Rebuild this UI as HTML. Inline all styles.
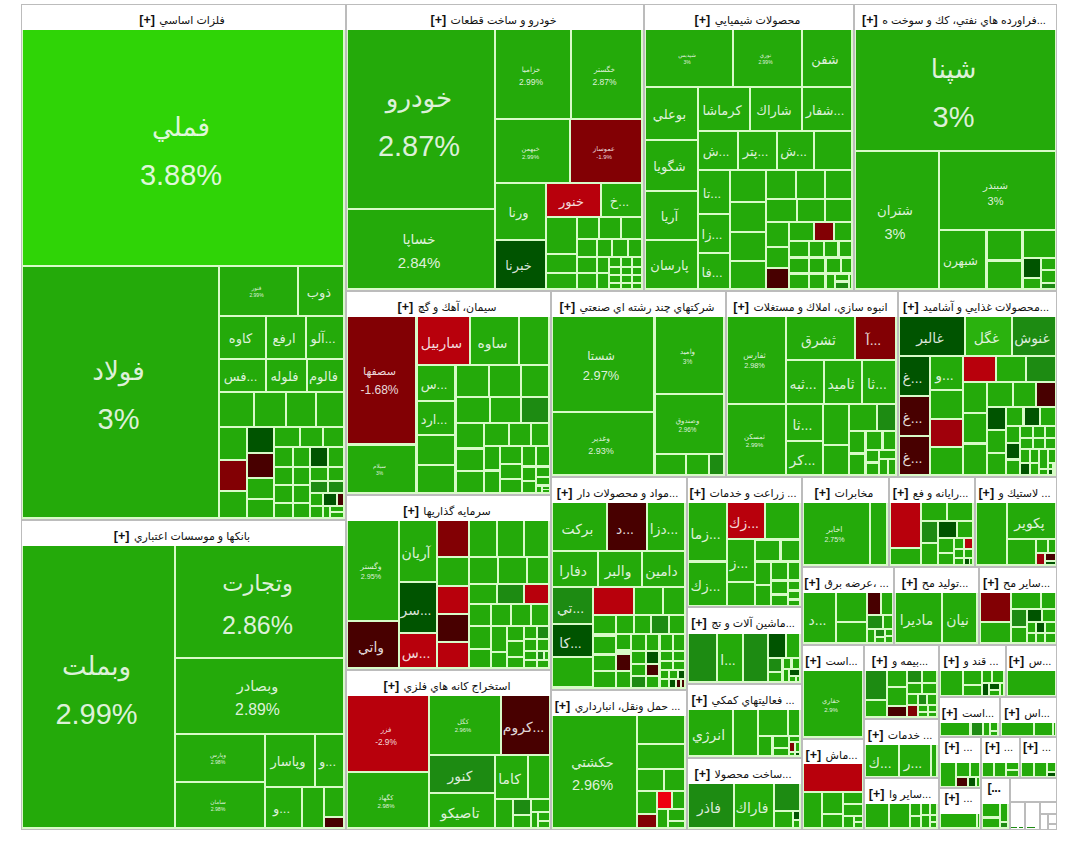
<!DOCTYPE html>
<html lang="fa"><head><meta charset="utf-8"><title>نقشه بازار</title>
<style>
html,body{margin:0;padding:0;background:#fff;}
body{width:1080px;height:858px;position:relative;overflow:hidden;font-family:"Liberation Sans","DejaVu Sans",sans-serif;}
.s{position:absolute;box-sizing:border-box;border:1px solid #bcbcbc;background:#d8fbc8;}
.w{background:#fff;}
.h{position:absolute;background:#fff;overflow:hidden;white-space:nowrap;color:#111;}
.h div{position:absolute;left:0;right:3px;top:7px;height:14px;line-height:14px;text-align:center;}
.h b{font-size:12.5px;font-weight:bold;letter-spacing:-0.4px;}
.h span{font-size:11px;}
.c{position:absolute;overflow:hidden;}
.t{position:absolute;left:0;right:4px;text-align:center;color:rgba(255,255,255,0.86);white-space:nowrap;}
</style></head><body>

<div class="s" style="left:21px;top:4px;width:325px;height:516px"></div>
<div class="s" style="left:21px;top:520px;width:325px;height:310px"></div>
<div class="s" style="left:346px;top:4px;width:298px;height:287px"></div>
<div class="s" style="left:644px;top:4px;width:210px;height:287px"></div>
<div class="s" style="left:854px;top:4px;width:203px;height:287px"></div>
<div class="s" style="left:346px;top:291px;width:205px;height:204px"></div>
<div class="s" style="left:346px;top:495px;width:205px;height:175px"></div>
<div class="s" style="left:346px;top:670px;width:205px;height:160px"></div>
<div class="s" style="left:551px;top:291px;width:175px;height:186px"></div>
<div class="s" style="left:726px;top:291px;width:172px;height:186px"></div>
<div class="s" style="left:898px;top:291px;width:159px;height:186px"></div>
<div class="s" style="left:551px;top:477px;width:136px;height:213px"></div>
<div class="s" style="left:551px;top:690px;width:136px;height:140px"></div>
<div class="s" style="left:687px;top:477px;width:115px;height:130px"></div>
<div class="s" style="left:687px;top:607px;width:115px;height:77px"></div>
<div class="s" style="left:687px;top:684px;width:115px;height:74px"></div>
<div class="s" style="left:687px;top:758px;width:115px;height:72px"></div>
<div class="s" style="left:802px;top:477px;width:87px;height:90px"></div>
<div class="s" style="left:889px;top:477px;width:86px;height:90px"></div>
<div class="s" style="left:975px;top:477px;width:82px;height:90px"></div>
<div class="s" style="left:802px;top:567px;width:92px;height:78px"></div>
<div class="s" style="left:894px;top:567px;width:85px;height:78px"></div>
<div class="s" style="left:979px;top:567px;width:78px;height:78px"></div>
<div class="s" style="left:802px;top:645px;width:62px;height:94px"></div>
<div class="s" style="left:802px;top:739px;width:62px;height:91px"></div>
<div class="s" style="left:864px;top:645px;width:75px;height:74px"></div>
<div class="s" style="left:864px;top:719px;width:75px;height:59px"></div>
<div class="s" style="left:864px;top:778px;width:75px;height:52px"></div>
<div class="s" style="left:939px;top:645px;width:67px;height:52px"></div>
<div class="s" style="left:1006px;top:645px;width:51px;height:52px"></div>
<div class="s" style="left:939px;top:697px;width:61px;height:40px"></div>
<div class="s" style="left:1000px;top:697px;width:57px;height:40px"></div>
<div class="s" style="left:939px;top:737px;width:42px;height:51px"></div>
<div class="s" style="left:981px;top:737px;width:39px;height:41px"></div>
<div class="s" style="left:1020px;top:737px;width:37px;height:41px"></div>
<div class="s" style="left:981px;top:778px;width:29px;height:52px"></div>
<div class="s" style="left:939px;top:788px;width:42px;height:42px"></div>
<div class="s w" style="left:1010px;top:778px;width:47px;height:52px"></div>
<div class="h" dir="ltr" style="left:22px;top:5px;width:323px;height:25px"><div><b>[+]</b> <span>فلزات اساسي</span></div></div>
<div class="h" dir="ltr" style="left:22px;top:521px;width:323px;height:25px"><div><b>[+]</b> <span>بانكها و موسسات اعتباري</span></div></div>
<div class="h" dir="ltr" style="left:347px;top:5px;width:296px;height:25px"><div><b>[+]</b> <span>خودرو و ساخت قطعات</span></div></div>
<div class="h" dir="ltr" style="left:645px;top:5px;width:208px;height:25px"><div><b>[+]</b> <span>محصولات شيميايي</span></div></div>
<div class="h" dir="ltr" style="left:855px;top:5px;width:201px;height:25px"><div><b>[+]</b> <span>فراورده هاي نفتي، كك و سوخت ه...</span></div></div>
<div class="h" dir="ltr" style="left:347px;top:292px;width:203px;height:25px"><div><b>[+]</b> <span>سيمان، آهك و گچ</span></div></div>
<div class="h" dir="ltr" style="left:347px;top:496px;width:203px;height:25px"><div><b>[+]</b> <span>سرمايه گذاريها</span></div></div>
<div class="h" dir="ltr" style="left:347px;top:671px;width:203px;height:25px"><div><b>[+]</b> <span>استخراج كانه هاي فلزي</span></div></div>
<div class="h" dir="ltr" style="left:552px;top:292px;width:173px;height:25px"><div><b>[+]</b> <span>شركتهاي چند رشته اي صنعتي</span></div></div>
<div class="h" dir="ltr" style="left:727px;top:292px;width:170px;height:25px"><div><b>[+]</b> <span>انبوه سازي، املاك و مستغلات</span></div></div>
<div class="h" dir="ltr" style="left:899px;top:292px;width:157px;height:25px"><div><b>[+]</b> <span>محصولات غذايي و آشاميد...</span></div></div>
<div class="h" dir="ltr" style="left:552px;top:478px;width:134px;height:25px"><div><b>[+]</b> <span>مواد و محصولات دار...</span></div></div>
<div class="h" dir="ltr" style="left:552px;top:691px;width:134px;height:25px"><div><b>[+]</b> <span>حمل ونقل، انبارداري ...</span></div></div>
<div class="h" dir="ltr" style="left:688px;top:478px;width:113px;height:25px"><div><b>[+]</b> <span>زراعت و خدمات ...</span></div></div>
<div class="h" dir="ltr" style="left:688px;top:608px;width:113px;height:26px"><div><b>[+]</b> <span>ماشين آلات و تج...</span></div></div>
<div class="h" dir="ltr" style="left:688px;top:685px;width:113px;height:25px"><div><b>[+]</b> <span>فعاليتهاي كمكي ...</span></div></div>
<div class="h" dir="ltr" style="left:688px;top:759px;width:113px;height:25px"><div><b>[+]</b> <span>ساخت محصولا...</span></div></div>
<div class="h" dir="ltr" style="left:803px;top:478px;width:85px;height:25px"><div><b>[+]</b> <span>مخابرات</span></div></div>
<div class="h" dir="ltr" style="left:890px;top:478px;width:84px;height:25px"><div><b>[+]</b> <span>رايانه و فع...</span></div></div>
<div class="h" dir="ltr" style="left:976px;top:478px;width:80px;height:25px"><div><b>[+]</b> <span>لاستيك و ...</span></div></div>
<div class="h" dir="ltr" style="left:803px;top:568px;width:90px;height:25px"><div><b>[+]</b> <span>عرضه برق، ...</span></div></div>
<div class="h" dir="ltr" style="left:895px;top:568px;width:83px;height:25px"><div><b>[+]</b> <span>توليد مح...</span></div></div>
<div class="h" dir="ltr" style="left:980px;top:568px;width:76px;height:25px"><div><b>[+]</b> <span>ساير مح...</span></div></div>
<div class="h" dir="ltr" style="left:803px;top:646px;width:60px;height:25px"><div><b>[+]</b> <span>است...</span></div></div>
<div class="h" dir="ltr" style="left:803px;top:740px;width:60px;height:24px"><div><b>[+]</b> <span>ماش...</span></div></div>
<div class="h" dir="ltr" style="left:865px;top:646px;width:73px;height:25px"><div><b>[+]</b> <span>بيمه و...</span></div></div>
<div class="h" dir="ltr" style="left:865px;top:720px;width:73px;height:25px"><div><b>[+]</b> <span>خدمات ...</span></div></div>
<div class="h" dir="ltr" style="left:865px;top:779px;width:73px;height:25px"><div><b>[+]</b> <span>ساير وا...</span></div></div>
<div class="h" dir="ltr" style="left:940px;top:646px;width:65px;height:25px"><div><b>[+]</b> <span>قند و ...</span></div></div>
<div class="h" dir="ltr" style="left:1007px;top:646px;width:49px;height:25px"><div><b>[+]</b> <span>س...</span></div></div>
<div class="h" dir="ltr" style="left:940px;top:698px;width:59px;height:25px"><div><b>[+]</b> <span>است...</span></div></div>
<div class="h" dir="ltr" style="left:1001px;top:698px;width:55px;height:25px"><div><b>[+]</b> <span>اس...</span></div></div>
<div class="h" dir="ltr" style="left:940px;top:738px;width:40px;height:25px"><div style="top:1px"><b>[+]</b> <span>...</span></div></div>
<div class="h" dir="ltr" style="left:982px;top:738px;width:37px;height:25px"><div style="top:1px"><b>[+]</b> <span>...</span></div></div>
<div class="h" dir="ltr" style="left:1021px;top:738px;width:35px;height:25px"><div style="top:1px"><b>[+]</b> <span>...</span></div></div>
<div class="h" dir="ltr" style="left:982px;top:779px;width:27px;height:25px"><div style="top:1px"><b>[...</b></div></div>
<div class="h" dir="ltr" style="left:940px;top:789px;width:40px;height:25px"><div style="top:1px"><b>[+]</b> <span>...</span></div></div>
<div class="c" style="left:1010px;top:801px;width:47px;height:2px;background:#bcbcbc"></div>
<div class="c" style="left:1024px;top:803px;width:2px;height:27px;background:#bcbcbc"></div>
<div class="c" style="left:1039px;top:803px;width:2px;height:27px;background:#bcbcbc"></div>
<div class="c" style="left:1041px;top:813px;width:16px;height:2px;background:#bcbcbc"></div>
<div class="c" style="left:1047px;top:815px;width:2px;height:15px;background:#bcbcbc"></div>
<div class="c" style="left:1049px;top:823px;width:8px;height:2px;background:#bcbcbc"></div>
<div class="c" style="left:1011px;top:827px;width:6px;height:1px;background:#1d8b12"></div>
<div class="c" style="left:1019px;top:827px;width:4px;height:1px;background:#1d8b12"></div>
<div class="c" style="left:1027px;top:827px;width:8px;height:1px;background:#1d8b12"></div>
<div class="c" style="left:23px;top:30px;width:320px;height:235px;background:#2fd406"><div class="t" style="top:71.7px;font-size:29px;line-height:48.1px"><span style="font-size:0.9em;position:relative;top:0">فملي</span><br>3.88%</div></div>
<div class="c" style="left:23px;top:267px;width:195px;height:250px;background:#24aa0a"><div class="t" style="top:79.2px;font-size:29px;line-height:48.1px"><span style="font-size:0.9em;position:relative;top:0">فولاد</span><br>3%</div></div>
<div class="c" style="left:220px;top:267px;width:77px;height:48px;background:#24aa0a"><div class="t" style="top:17.3px;font-size:5px;line-height:7.5px"><span style="font-size:1.1em;position:relative;top:0.12em">فنور</span><br>2.99%</div></div>
<div class="c" style="left:299px;top:267px;width:44px;height:48px;background:#24aa0a"><div class="t" style="top:17.8px;font-size:13.02px;line-height:16.9px">ذوب</div></div>
<div class="c" style="left:220px;top:317px;width:45px;height:41px;background:#24aa0a"><div class="t" style="top:14.3px;font-size:13.02px;line-height:16.9px">كاوه</div></div>
<div class="c" style="left:267px;top:317px;width:38px;height:41px;background:#24aa0a"><div class="t" style="top:14.3px;font-size:13.02px;line-height:16.9px">ارفع</div></div>
<div class="c" style="left:307px;top:317px;width:36px;height:41px;background:#24aa0a"><div class="t" style="top:14.3px;font-size:13.02px;line-height:16.9px">آلو...</div></div>
<div class="c" style="left:220px;top:360px;width:45px;height:31px;background:#24aa0a"><div class="t" style="top:9.3px;font-size:13.02px;line-height:16.9px">فس...</div></div>
<div class="c" style="left:267px;top:360px;width:39px;height:31px;background:#24aa0a"><div class="t" style="top:9.3px;font-size:13.02px;line-height:16.9px">فلوله</div></div>
<div class="c" style="left:308px;top:360px;width:35px;height:31px;background:#24aa0a"><div class="t" style="top:9.3px;font-size:13.02px;line-height:16.9px">فالوم</div></div>
<div class="c" style="left:220px;top:393px;width:33px;height:33px;background:#24aa0a"></div>
<div class="c" style="left:255px;top:393px;width:30px;height:33px;background:#24aa0a"></div>
<div class="c" style="left:287px;top:393px;width:28px;height:33px;background:#24aa0a"></div>
<div class="c" style="left:317px;top:393px;width:26px;height:33px;background:#24aa0a"></div>
<div class="c" style="left:220px;top:428px;width:26px;height:31px;background:#24aa0a"></div>
<div class="c" style="left:220px;top:461px;width:26px;height:29px;background:#820004"></div>
<div class="c" style="left:220px;top:492px;width:26px;height:25px;background:#24aa0a"></div>
<div class="c" style="left:248px;top:428px;width:25px;height:24px;background:#005400"></div>
<div class="c" style="left:248px;top:454px;width:25px;height:23px;background:#480000"></div>
<div class="c" style="left:248px;top:479px;width:25px;height:19px;background:#24aa0a"></div>
<div class="c" style="left:248px;top:500px;width:25px;height:17px;background:#24aa0a"></div>
<div class="c" style="left:275px;top:428px;width:24px;height:18px;background:#24aa0a"></div>
<div class="c" style="left:301px;top:428px;width:21px;height:18px;background:#24aa0a"></div>
<div class="c" style="left:324px;top:428px;width:19px;height:18px;background:#24aa0a"></div>
<div class="c" style="left:275px;top:448px;width:17px;height:18px;background:#24aa0a"></div>
<div class="c" style="left:275px;top:468px;width:17px;height:16px;background:#24aa0a"></div>
<div class="c" style="left:275px;top:486px;width:17px;height:16px;background:#24aa0a"></div>
<div class="c" style="left:275px;top:504px;width:17px;height:13px;background:#24aa0a"></div>
<div class="c" style="left:294px;top:448px;width:15px;height:18px;background:#24aa0a"></div>
<div class="c" style="left:294px;top:468px;width:15px;height:16px;background:#24aa0a"></div>
<div class="c" style="left:294px;top:486px;width:15px;height:16px;background:#24aa0a"></div>
<div class="c" style="left:294px;top:504px;width:15px;height:13px;background:#24aa0a"></div>
<div class="c" style="left:311px;top:448px;width:16px;height:18px;background:#005400"></div>
<div class="c" style="left:329px;top:448px;width:14px;height:18px;background:#24aa0a"></div>
<div class="c" style="left:311px;top:468px;width:16px;height:12px;background:#24aa0a"></div>
<div class="c" style="left:329px;top:468px;width:14px;height:12px;background:#24aa0a"></div>
<div class="c" style="left:311px;top:482px;width:16px;height:10px;background:#1d8b12"></div>
<div class="c" style="left:329px;top:482px;width:14px;height:10px;background:#1d8b12"></div>
<div class="c" style="left:311px;top:494px;width:11px;height:11px;background:#24aa0a"></div>
<div class="c" style="left:324px;top:494px;width:12px;height:11px;background:#005400"></div>
<div class="c" style="left:338px;top:494px;width:5px;height:11px;background:#480000"></div>
<div class="c" style="left:311px;top:507px;width:11px;height:10px;background:#24aa0a"></div>
<div class="c" style="left:324px;top:507px;width:5px;height:10px;background:#24aa0a"></div>
<div class="c" style="left:331px;top:507px;width:12px;height:4px;background:#24aa0a"></div>
<div class="c" style="left:331px;top:513px;width:12px;height:4px;background:#24aa0a"></div>
<div class="c" style="left:23px;top:546px;width:151px;height:281px;background:#24aa0a"><div class="t" style="top:94.7px;font-size:29px;line-height:48.1px"><span style="font-size:0.9em;position:relative;top:0">وبملت</span><br>2.99%</div></div>
<div class="c" style="left:176px;top:546px;width:167px;height:111px;background:#24aa0a"><div class="t" style="top:16.0px;font-size:25px;line-height:41.5px"><span style="font-size:0.9em;position:relative;top:0">وتجارت</span><br>2.86%</div></div>
<div class="c" style="left:176px;top:659px;width:167px;height:74px;background:#24aa0a"><div class="t" style="top:11.9px;font-size:15.8px;line-height:26.2px"><span style="font-size:0.92em;position:relative;top:0.12em">وبصادر</span><br>2.89%</div></div>
<div class="c" style="left:176px;top:735px;width:88px;height:46px;background:#24aa0a"><div class="t" style="top:16.0px;font-size:5.2px;line-height:7.8px"><span style="font-size:1.1em;position:relative;top:0.12em">وپارس</span><br>2.98%</div></div>
<div class="c" style="left:176px;top:783px;width:88px;height:44px;background:#24aa0a"><div class="t" style="top:15.0px;font-size:5.2px;line-height:7.8px"><span style="font-size:1.1em;position:relative;top:0.12em">سامان</span><br>2.98%</div></div>
<div class="c" style="left:266px;top:735px;width:48px;height:51px;background:#24aa0a"><div class="t" style="top:19.3px;font-size:13.02px;line-height:16.9px">وپاسار</div></div>
<div class="c" style="left:316px;top:735px;width:27px;height:51px;background:#24aa0a"><div class="t" style="top:19.3px;font-size:13.02px;line-height:16.9px">و...</div></div>
<div class="c" style="left:266px;top:788px;width:35px;height:39px;background:#24aa0a"><div class="t" style="top:13.3px;font-size:13.02px;line-height:16.9px">و...</div></div>
<div class="c" style="left:303px;top:788px;width:20px;height:39px;background:#24aa0a"></div>
<div class="c" style="left:325px;top:788px;width:18px;height:28px;background:#24aa0a"></div>
<div class="c" style="left:325px;top:818px;width:18px;height:9px;background:#480000"></div>
<div class="c" style="left:348px;top:30px;width:146px;height:178px;background:#24aa0a"><div class="t" style="top:43.2px;font-size:29px;line-height:48.1px"><span style="font-size:0.9em;position:relative;top:0">خودرو</span><br>2.87%</div></div>
<div class="c" style="left:348px;top:210px;width:146px;height:78px;background:#24aa0a"><div class="t" style="top:15.2px;font-size:15px;line-height:24.9px"><span style="font-size:0.92em;position:relative;top:0.12em">خساپا</span><br>2.84%</div></div>
<div class="c" style="left:496px;top:30px;width:74px;height:88px;background:#24aa0a"><div class="t" style="top:32.6px;font-size:8.5px;line-height:12.8px"><span style="font-size:0.85em;position:relative;top:0.12em">خزاميا</span><br>2.99%</div></div>
<div class="c" style="left:572px;top:30px;width:69px;height:88px;background:#24aa0a"><div class="t" style="top:32.6px;font-size:8.5px;line-height:12.8px"><span style="font-size:0.85em;position:relative;top:0.12em">خگستر</span><br>2.87%</div></div>
<div class="c" style="left:496px;top:120px;width:73px;height:62px;background:#24aa0a"><div class="t" style="top:23.0px;font-size:6px;line-height:9.0px"><span style="font-size:1.1em;position:relative;top:0.12em">خبهمن</span><br>2.99%</div></div>
<div class="c" style="left:571px;top:120px;width:70px;height:62px;background:#820004"><div class="t" style="top:23.0px;font-size:6px;line-height:9.0px"><span style="font-size:1.1em;position:relative;top:0.12em">عموساز</span><br>-1.9%</div></div>
<div class="c" style="left:496px;top:184px;width:49px;height:55px;background:#24aa0a"><div class="t" style="top:21.3px;font-size:13.02px;line-height:16.9px">ورنا</div></div>
<div class="c" style="left:496px;top:241px;width:49px;height:47px;background:#005400"><div class="t" style="top:17.3px;font-size:13.02px;line-height:16.9px">خبرنا</div></div>
<div class="c" style="left:547px;top:184px;width:53px;height:32px;background:#b8000c"><div class="t" style="top:9.8px;font-size:13.02px;line-height:16.9px">خنور</div></div>
<div class="c" style="left:602px;top:184px;width:39px;height:32px;background:#24aa0a"><div class="t" style="top:9.8px;font-size:13.02px;line-height:16.9px">خ...</div></div>
<div class="c" style="left:547px;top:218px;width:29px;height:35px;background:#24aa0a"></div>
<div class="c" style="left:547px;top:255px;width:29px;height:17px;background:#24aa0a"></div>
<div class="c" style="left:547px;top:274px;width:29px;height:14px;background:#24aa0a"></div>
<div class="c" style="left:578px;top:218px;width:20px;height:20px;background:#24aa0a"></div>
<div class="c" style="left:600px;top:218px;width:20px;height:20px;background:#24aa0a"></div>
<div class="c" style="left:622px;top:218px;width:19px;height:20px;background:#24aa0a"></div>
<div class="c" style="left:578px;top:240px;width:18px;height:16px;background:#24aa0a"></div>
<div class="c" style="left:578px;top:258px;width:18px;height:14px;background:#24aa0a"></div>
<div class="c" style="left:578px;top:274px;width:18px;height:14px;background:#24aa0a"></div>
<div class="c" style="left:598px;top:240px;width:13px;height:16px;background:#24aa0a"></div>
<div class="c" style="left:613px;top:240px;width:14px;height:16px;background:#24aa0a"></div>
<div class="c" style="left:629px;top:240px;width:12px;height:16px;background:#24aa0a"></div>
<div class="c" style="left:598px;top:258px;width:10px;height:14px;background:#24aa0a"></div>
<div class="c" style="left:598px;top:274px;width:10px;height:14px;background:#24aa0a"></div>
<div class="c" style="left:610px;top:258px;width:10px;height:8px;background:#24aa0a"></div>
<div class="c" style="left:622px;top:258px;width:9px;height:8px;background:#24aa0a"></div>
<div class="c" style="left:633px;top:258px;width:8px;height:8px;background:#24aa0a"></div>
<div class="c" style="left:610px;top:268px;width:10px;height:6px;background:#24aa0a"></div>
<div class="c" style="left:622px;top:268px;width:9px;height:6px;background:#24aa0a"></div>
<div class="c" style="left:633px;top:268px;width:8px;height:6px;background:#24aa0a"></div>
<div class="c" style="left:610px;top:276px;width:10px;height:6px;background:#24aa0a"></div>
<div class="c" style="left:622px;top:276px;width:9px;height:6px;background:#24aa0a"></div>
<div class="c" style="left:633px;top:276px;width:8px;height:6px;background:#24aa0a"></div>
<div class="c" style="left:610px;top:284px;width:10px;height:4px;background:#24aa0a"></div>
<div class="c" style="left:622px;top:284px;width:9px;height:4px;background:#24aa0a"></div>
<div class="c" style="left:633px;top:284px;width:8px;height:4px;background:#24aa0a"></div>
<div class="c" style="left:646px;top:30px;width:86px;height:56px;background:#24aa0a"><div class="t" style="top:21.3px;font-size:5px;line-height:7.5px"><span style="font-size:1.1em;position:relative;top:0.12em">شپديس</span><br>3%</div></div>
<div class="c" style="left:734px;top:30px;width:67px;height:56px;background:#24aa0a"><div class="t" style="top:21.3px;font-size:5px;line-height:7.5px"><span style="font-size:1.1em;position:relative;top:0.12em">نوري</span><br>2.99%</div></div>
<div class="c" style="left:803px;top:30px;width:48px;height:56px;background:#24aa0a"><div class="t" style="top:21.8px;font-size:13.02px;line-height:16.9px">شفن</div></div>
<div class="c" style="left:646px;top:88px;width:51px;height:51px;background:#24aa0a"><div class="t" style="top:19.3px;font-size:13.02px;line-height:16.9px">بوعلي</div></div>
<div class="c" style="left:646px;top:141px;width:51px;height:49px;background:#24aa0a"><div class="t" style="top:18.3px;font-size:13.02px;line-height:16.9px">شگويا</div></div>
<div class="c" style="left:646px;top:192px;width:51px;height:47px;background:#24aa0a"><div class="t" style="top:17.3px;font-size:13.02px;line-height:16.9px">آريا</div></div>
<div class="c" style="left:646px;top:241px;width:51px;height:47px;background:#24aa0a"><div class="t" style="top:17.3px;font-size:13.02px;line-height:16.9px">پارسان</div></div>
<div class="c" style="left:699px;top:88px;width:50px;height:42px;background:#24aa0a"><div class="t" style="top:14.8px;font-size:13.02px;line-height:16.9px">كرماشا</div></div>
<div class="c" style="left:751px;top:88px;width:50px;height:42px;background:#24aa0a"><div class="t" style="top:14.8px;font-size:13.02px;line-height:16.9px">شاراك</div></div>
<div class="c" style="left:803px;top:88px;width:48px;height:42px;background:#24aa0a"><div class="t" style="top:14.8px;font-size:13.02px;line-height:16.9px">شفار...</div></div>
<div class="c" style="left:699px;top:132px;width:38px;height:37px;background:#24aa0a"><div class="t" style="top:12.3px;font-size:13.02px;line-height:16.9px">ش...</div></div>
<div class="c" style="left:739px;top:132px;width:37px;height:37px;background:#24aa0a"><div class="t" style="top:12.3px;font-size:13.02px;line-height:16.9px">پتر...</div></div>
<div class="c" style="left:778px;top:132px;width:35px;height:37px;background:#24aa0a"><div class="t" style="top:12.3px;font-size:13.02px;line-height:16.9px">ش...</div></div>
<div class="c" style="left:815px;top:132px;width:36px;height:37px;background:#24aa0a"></div>
<div class="c" style="left:699px;top:171px;width:30px;height:42px;background:#24aa0a"><div class="t" style="top:14.8px;font-size:13.02px;line-height:16.9px">تا...</div></div>
<div class="c" style="left:699px;top:215px;width:30px;height:37px;background:#24aa0a"><div class="t" style="top:12.3px;font-size:13.02px;line-height:16.9px">زا...</div></div>
<div class="c" style="left:699px;top:254px;width:30px;height:34px;background:#24aa0a"><div class="t" style="top:10.8px;font-size:13.02px;line-height:16.9px">فا...</div></div>
<div class="c" style="left:731px;top:171px;width:34px;height:30px;background:#24aa0a"></div>
<div class="c" style="left:731px;top:203px;width:34px;height:28px;background:#24aa0a"></div>
<div class="c" style="left:731px;top:233px;width:34px;height:27px;background:#24aa0a"></div>
<div class="c" style="left:731px;top:262px;width:34px;height:26px;background:#24aa0a"></div>
<div class="c" style="left:767px;top:171px;width:28px;height:27px;background:#24aa0a"></div>
<div class="c" style="left:797px;top:171px;width:27px;height:27px;background:#24aa0a"></div>
<div class="c" style="left:826px;top:171px;width:25px;height:27px;background:#24aa0a"></div>
<div class="c" style="left:767px;top:200px;width:29px;height:21px;background:#24aa0a"></div>
<div class="c" style="left:798px;top:200px;width:26px;height:21px;background:#24aa0a"></div>
<div class="c" style="left:826px;top:200px;width:25px;height:21px;background:#24aa0a"></div>
<div class="c" style="left:767px;top:223px;width:21px;height:23px;background:#24aa0a"></div>
<div class="c" style="left:767px;top:248px;width:21px;height:19px;background:#24aa0a"></div>
<div class="c" style="left:767px;top:269px;width:21px;height:19px;background:#480000"></div>
<div class="c" style="left:790px;top:223px;width:23px;height:17px;background:#24aa0a"></div>
<div class="c" style="left:815px;top:223px;width:18px;height:17px;background:#820004"></div>
<div class="c" style="left:835px;top:223px;width:16px;height:17px;background:#24aa0a"></div>
<div class="c" style="left:790px;top:242px;width:18px;height:14px;background:#24aa0a"></div>
<div class="c" style="left:810px;top:242px;width:13px;height:14px;background:#24aa0a"></div>
<div class="c" style="left:825px;top:242px;width:12px;height:14px;background:#24aa0a"></div>
<div class="c" style="left:840px;top:242px;width:11px;height:14px;background:#24aa0a"></div>
<div class="c" style="left:790px;top:259px;width:18px;height:13px;background:#24aa0a"></div>
<div class="c" style="left:810px;top:259px;width:14px;height:13px;background:#24aa0a"></div>
<div class="c" style="left:827px;top:259px;width:13px;height:13px;background:#24aa0a"></div>
<div class="c" style="left:842px;top:259px;width:9px;height:13px;background:#24aa0a"></div>
<div class="c" style="left:790px;top:275px;width:18px;height:13px;background:#24aa0a"></div>
<div class="c" style="left:810px;top:275px;width:14px;height:13px;background:#24aa0a"></div>
<div class="c" style="left:827px;top:275px;width:7px;height:13px;background:#24aa0a"></div>
<div class="c" style="left:836px;top:275px;width:12px;height:5px;background:#24aa0a"></div>
<div class="c" style="left:836px;top:283px;width:12px;height:5px;background:#1d8b12"></div>
<div class="c" style="left:850px;top:275px;width:1px;height:13px;background:#24aa0a"></div>
<div class="c" style="left:856px;top:30px;width:199px;height:120px;background:#24aa0a"><div class="t" style="top:14.2px;font-size:29px;line-height:48.1px"><span style="font-size:0.9em;position:relative;top:0">شپنا</span><br>3%</div></div>
<div class="c" style="left:856px;top:152px;width:82px;height:136px;background:#24aa0a"><div class="t" style="top:44.9px;font-size:14.5px;line-height:24.1px"><span style="font-size:0.92em;position:relative;top:0.12em">شتران</span><br>3%</div></div>
<div class="c" style="left:940px;top:152px;width:115px;height:77px;background:#24aa0a"><div class="t" style="top:23.8px;font-size:11px;line-height:16.5px"><span style="font-size:0.92em;position:relative;top:0.12em">شبندر</span><br>3%</div></div>
<div class="c" style="left:940px;top:231px;width:45px;height:57px;background:#24aa0a"><div class="t" style="top:22.7px;font-size:12.09px;line-height:15.7px">شبهرن</div></div>
<div class="c" style="left:988px;top:231px;width:33px;height:28px;background:#24aa0a"></div>
<div class="c" style="left:988px;top:262px;width:33px;height:26px;background:#24aa0a"></div>
<div class="c" style="left:1024px;top:231px;width:31px;height:26px;background:#24aa0a"></div>
<div class="c" style="left:1024px;top:259px;width:16px;height:18px;background:#005400"></div>
<div class="c" style="left:1042px;top:259px;width:13px;height:10px;background:#24aa0a"></div>
<div class="c" style="left:1042px;top:271px;width:13px;height:11px;background:#24aa0a"></div>
<div class="c" style="left:1024px;top:279px;width:16px;height:9px;background:#24aa0a"></div>
<div class="c" style="left:1042px;top:284px;width:13px;height:4px;background:#1d8b12"></div>
<div class="c" style="left:348px;top:317px;width:67px;height:126px;background:#820004"><div class="t" style="top:43.9px;font-size:12px;line-height:19.9px"><span style="font-size:0.92em;position:relative;top:0.12em">سصفها</span><br>-1.68%</div></div>
<div class="c" style="left:348px;top:446px;width:67px;height:46px;background:#24aa0a"><div class="t" style="top:16.3px;font-size:5px;line-height:7.5px"><span style="font-size:1.1em;position:relative;top:0.12em">سيلام</span><br>3%</div></div>
<div class="c" style="left:418px;top:317px;width:51px;height:47px;background:#b8000c"><div class="t" style="top:16.8px;font-size:13.95px;line-height:18.1px">ساربيل</div></div>
<div class="c" style="left:471px;top:317px;width:47px;height:47px;background:#24aa0a"><div class="t" style="top:16.8px;font-size:13.95px;line-height:18.1px">ساوه</div></div>
<div class="c" style="left:520px;top:317px;width:28px;height:47px;background:#24aa0a"></div>
<div class="c" style="left:418px;top:366px;width:36px;height:34px;background:#24aa0a"><div class="t" style="top:10.8px;font-size:13.02px;line-height:16.9px">س...</div></div>
<div class="c" style="left:418px;top:402px;width:36px;height:32px;background:#24aa0a"><div class="t" style="top:9.8px;font-size:13.02px;line-height:16.9px">ارد...</div></div>
<div class="c" style="left:418px;top:436px;width:36px;height:28px;background:#24aa0a"></div>
<div class="c" style="left:418px;top:466px;width:36px;height:26px;background:#24aa0a"></div>
<div class="c" style="left:457px;top:366px;width:31px;height:30px;background:#24aa0a"></div>
<div class="c" style="left:490px;top:366px;width:30px;height:30px;background:#24aa0a"></div>
<div class="c" style="left:522px;top:366px;width:26px;height:30px;background:#24aa0a"></div>
<div class="c" style="left:457px;top:398px;width:32px;height:24px;background:#24aa0a"></div>
<div class="c" style="left:491px;top:398px;width:29px;height:24px;background:#24aa0a"></div>
<div class="c" style="left:522px;top:398px;width:26px;height:24px;background:#1d8b12"></div>
<div class="c" style="left:457px;top:424px;width:26px;height:23px;background:#24aa0a"></div>
<div class="c" style="left:485px;top:424px;width:23px;height:21px;background:#24aa0a"></div>
<div class="c" style="left:510px;top:424px;width:20px;height:21px;background:#24aa0a"></div>
<div class="c" style="left:532px;top:424px;width:16px;height:21px;background:#24aa0a"></div>
<div class="c" style="left:457px;top:450px;width:26px;height:20px;background:#24aa0a"></div>
<div class="c" style="left:457px;top:472px;width:26px;height:20px;background:#24aa0a"></div>
<div class="c" style="left:485px;top:447px;width:14px;height:22px;background:#24aa0a"></div>
<div class="c" style="left:485px;top:472px;width:14px;height:20px;background:#24aa0a"></div>
<div class="c" style="left:501px;top:447px;width:20px;height:16px;background:#24aa0a"></div>
<div class="c" style="left:501px;top:465px;width:20px;height:13px;background:#24aa0a"></div>
<div class="c" style="left:501px;top:480px;width:20px;height:12px;background:#24aa0a"></div>
<div class="c" style="left:523px;top:447px;width:12px;height:18px;background:#24aa0a"></div>
<div class="c" style="left:523px;top:468px;width:12px;height:12px;background:#24aa0a"></div>
<div class="c" style="left:523px;top:482px;width:12px;height:10px;background:#24aa0a"></div>
<div class="c" style="left:537px;top:447px;width:12px;height:18px;background:#24aa0a"></div>
<div class="c" style="left:537px;top:468px;width:12px;height:8px;background:#24aa0a"></div>
<div class="c" style="left:537px;top:478px;width:12px;height:6px;background:#24aa0a"></div>
<div class="c" style="left:537px;top:487px;width:4px;height:5px;background:#24aa0a"></div>
<div class="c" style="left:543px;top:487px;width:6px;height:2px;background:#24aa0a"></div>
<div class="c" style="left:543px;top:490px;width:6px;height:2px;background:#24aa0a"></div>
<div class="c" style="left:553px;top:317px;width:100px;height:94px;background:#24aa0a"><div class="t" style="top:26.6px;font-size:12.8px;line-height:21.2px"><span style="font-size:0.92em;position:relative;top:0.12em">شستا</span><br>2.97%</div></div>
<div class="c" style="left:553px;top:413px;width:100px;height:61px;background:#24aa0a"><div class="t" style="top:18.4px;font-size:9px;line-height:13.5px"><span style="font-size:0.85em;position:relative;top:0.12em">وغدير</span><br>2.93%</div></div>
<div class="c" style="left:656px;top:317px;width:67px;height:76px;background:#24aa0a"><div class="t" style="top:29.3px;font-size:6.5px;line-height:9.8px"><span style="font-size:1.1em;position:relative;top:0.12em">واميد</span><br>3%</div></div>
<div class="c" style="left:656px;top:395px;width:67px;height:58px;background:#24aa0a"><div class="t" style="top:20.6px;font-size:6.3px;line-height:9.4px"><span style="font-size:1.1em;position:relative;top:0.12em">وصندوق</span><br>2.96%</div></div>
<div class="c" style="left:656px;top:455px;width:29px;height:19px;background:#24aa0a"></div>
<div class="c" style="left:687px;top:455px;width:21px;height:19px;background:#24aa0a"></div>
<div class="c" style="left:710px;top:455px;width:13px;height:19px;background:#1d8b12"></div>
<div class="c" style="left:728px;top:317px;width:57px;height:86px;background:#24aa0a"><div class="t" style="top:33.2px;font-size:7.3px;line-height:10.9px"><span style="font-size:1.1em;position:relative;top:0.12em">ثفارس</span><br>2.98%</div></div>
<div class="c" style="left:728px;top:405px;width:57px;height:69px;background:#24aa0a"><div class="t" style="top:26.2px;font-size:6.2px;line-height:9.3px"><span style="font-size:1.1em;position:relative;top:0.12em">ثمسكن</span><br>2.99%</div></div>
<div class="c" style="left:787px;top:317px;width:67px;height:42px;background:#24aa0a"><div class="t" style="top:14.3px;font-size:13.95px;line-height:18.1px">ثشرق</div></div>
<div class="c" style="left:856px;top:317px;width:39px;height:42px;background:#820004"><div class="t" style="top:14.3px;font-size:13.95px;line-height:18.1px">آ...</div></div>
<div class="c" style="left:787px;top:361px;width:36px;height:42px;background:#24aa0a"><div class="t" style="top:14.3px;font-size:13.95px;line-height:18.1px">ثبه...</div></div>
<div class="c" style="left:825px;top:361px;width:36px;height:42px;background:#24aa0a"><div class="t" style="top:14.3px;font-size:13.95px;line-height:18.1px">ثاميد</div></div>
<div class="c" style="left:863px;top:361px;width:32px;height:42px;background:#24aa0a"><div class="t" style="top:14.3px;font-size:13.95px;line-height:18.1px">ثا...</div></div>
<div class="c" style="left:787px;top:405px;width:35px;height:35px;background:#24aa0a"><div class="t" style="top:10.8px;font-size:13.95px;line-height:18.1px">ثا...</div></div>
<div class="c" style="left:787px;top:442px;width:35px;height:32px;background:#24aa0a"><div class="t" style="top:9.3px;font-size:13.95px;line-height:18.1px">كر...</div></div>
<div class="c" style="left:824px;top:405px;width:24px;height:39px;background:#24aa0a"></div>
<div class="c" style="left:824px;top:446px;width:24px;height:28px;background:#24aa0a"></div>
<div class="c" style="left:850px;top:405px;width:26px;height:25px;background:#24aa0a"></div>
<div class="c" style="left:878px;top:405px;width:17px;height:25px;background:#1d8b12"></div>
<div class="c" style="left:850px;top:432px;width:14px;height:20px;background:#24aa0a"></div>
<div class="c" style="left:850px;top:455px;width:14px;height:19px;background:#24aa0a"></div>
<div class="c" style="left:867px;top:432px;width:14px;height:17px;background:#24aa0a"></div>
<div class="c" style="left:884px;top:432px;width:11px;height:17px;background:#24aa0a"></div>
<div class="c" style="left:867px;top:451px;width:11px;height:10px;background:#24aa0a"></div>
<div class="c" style="left:867px;top:464px;width:11px;height:10px;background:#24aa0a"></div>
<div class="c" style="left:880px;top:451px;width:15px;height:7px;background:#24aa0a"></div>
<div class="c" style="left:880px;top:460px;width:7px;height:14px;background:#24aa0a"></div>
<div class="c" style="left:889px;top:460px;width:6px;height:14px;background:#24aa0a"></div>
<div class="c" style="left:900px;top:317px;width:64px;height:38px;background:#005400"><div class="t" style="top:12.3px;font-size:13.95px;line-height:18.1px">غالبر</div></div>
<div class="c" style="left:966px;top:317px;width:45px;height:38px;background:#2ab20e"><div class="t" style="top:12.3px;font-size:13.95px;line-height:18.1px">غگل</div></div>
<div class="c" style="left:1013px;top:317px;width:42px;height:38px;background:#1d8b12"><div class="t" style="top:12.3px;font-size:13.95px;line-height:18.1px">غنوش</div></div>
<div class="c" style="left:900px;top:357px;width:29px;height:38px;background:#005400"><div class="t" style="top:12.3px;font-size:13.95px;line-height:18.1px">غ...</div></div>
<div class="c" style="left:900px;top:397px;width:29px;height:38px;background:#480000"><div class="t" style="top:12.3px;font-size:13.95px;line-height:18.1px">غ...</div></div>
<div class="c" style="left:900px;top:437px;width:29px;height:37px;background:#480000"><div class="t" style="top:11.8px;font-size:13.95px;line-height:18.1px">غ...</div></div>
<div class="c" style="left:931px;top:357px;width:31px;height:32px;background:#24aa0a"><div class="t" style="top:9.3px;font-size:13.95px;line-height:18.1px">و...</div></div>
<div class="c" style="left:931px;top:391px;width:31px;height:27px;background:#24aa0a"></div>
<div class="c" style="left:931px;top:420px;width:31px;height:26px;background:#a0000b"></div>
<div class="c" style="left:931px;top:448px;width:31px;height:26px;background:#24aa0a"></div>
<div class="c" style="left:964px;top:357px;width:31px;height:24px;background:#b8000c"></div>
<div class="c" style="left:997px;top:357px;width:28px;height:24px;background:#24aa0a"></div>
<div class="c" style="left:1027px;top:357px;width:28px;height:24px;background:#1d8b12"></div>
<div class="c" style="left:964px;top:383px;width:22px;height:29px;background:#24aa0a"></div>
<div class="c" style="left:964px;top:414px;width:22px;height:28px;background:#24aa0a"></div>
<div class="c" style="left:964px;top:445px;width:22px;height:29px;background:#24aa0a"></div>
<div class="c" style="left:988px;top:383px;width:24px;height:23px;background:#24aa0a"></div>
<div class="c" style="left:1014px;top:383px;width:21px;height:23px;background:#24aa0a"></div>
<div class="c" style="left:1037px;top:383px;width:18px;height:23px;background:#480000"></div>
<div class="c" style="left:988px;top:408px;width:17px;height:21px;background:#005400"></div>
<div class="c" style="left:988px;top:431px;width:17px;height:21px;background:#24aa0a"></div>
<div class="c" style="left:988px;top:454px;width:17px;height:20px;background:#24aa0a"></div>
<div class="c" style="left:1007px;top:408px;width:15px;height:17px;background:#24aa0a"></div>
<div class="c" style="left:1025px;top:408px;width:14px;height:17px;background:#005400"></div>
<div class="c" style="left:1041px;top:408px;width:14px;height:17px;background:#24aa0a"></div>
<div class="c" style="left:1007px;top:427px;width:12px;height:15px;background:#24aa0a"></div>
<div class="c" style="left:1007px;top:444px;width:12px;height:14px;background:#005400"></div>
<div class="c" style="left:1007px;top:461px;width:12px;height:13px;background:#24aa0a"></div>
<div class="c" style="left:1021px;top:427px;width:11px;height:10px;background:#24aa0a"></div>
<div class="c" style="left:1034px;top:427px;width:10px;height:10px;background:#24aa0a"></div>
<div class="c" style="left:1046px;top:427px;width:9px;height:10px;background:#24aa0a"></div>
<div class="c" style="left:1021px;top:439px;width:11px;height:9px;background:#24aa0a"></div>
<div class="c" style="left:1034px;top:439px;width:10px;height:9px;background:#24aa0a"></div>
<div class="c" style="left:1046px;top:439px;width:9px;height:9px;background:#24aa0a"></div>
<div class="c" style="left:1021px;top:450px;width:8px;height:12px;background:#24aa0a"></div>
<div class="c" style="left:1031px;top:450px;width:7px;height:12px;background:#24aa0a"></div>
<div class="c" style="left:1040px;top:450px;width:7px;height:12px;background:#24aa0a"></div>
<div class="c" style="left:1049px;top:450px;width:6px;height:12px;background:#24aa0a"></div>
<div class="c" style="left:1021px;top:464px;width:8px;height:10px;background:#005400"></div>
<div class="c" style="left:1031px;top:464px;width:7px;height:10px;background:#24aa0a"></div>
<div class="c" style="left:1040px;top:461px;width:7px;height:7px;background:#24aa0a"></div>
<div class="c" style="left:1040px;top:470px;width:7px;height:4px;background:#24aa0a"></div>
<div class="c" style="left:1049px;top:464px;width:3px;height:4px;background:#24aa0a"></div>
<div class="c" style="left:1049px;top:470px;width:3px;height:4px;background:#005400"></div>
<div class="c" style="left:348px;top:521px;width:50px;height:99px;background:#24aa0a"><div class="t" style="top:39.9px;font-size:7.2px;line-height:10.8px"><span style="font-size:1.1em;position:relative;top:0.12em">وگستر</span><br>2.95%</div></div>
<div class="c" style="left:348px;top:622px;width:50px;height:45px;background:#480000"><div class="t" style="top:15.8px;font-size:13.95px;line-height:18.1px">واتي</div></div>
<div class="c" style="left:400px;top:521px;width:36px;height:60px;background:#24aa0a"><div class="t" style="top:23.3px;font-size:13.95px;line-height:18.1px">آريان</div></div>
<div class="c" style="left:400px;top:583px;width:36px;height:49px;background:#005400"><div class="t" style="top:17.8px;font-size:13.95px;line-height:18.1px">سر...</div></div>
<div class="c" style="left:400px;top:634px;width:36px;height:33px;background:#b8000c"><div class="t" style="top:9.8px;font-size:13.95px;line-height:18.1px">س...</div></div>
<div class="c" style="left:438px;top:521px;width:30px;height:35px;background:#820004"></div>
<div class="c" style="left:438px;top:558px;width:30px;height:27px;background:#24aa0a"></div>
<div class="c" style="left:438px;top:587px;width:30px;height:26px;background:#b8000c"></div>
<div class="c" style="left:438px;top:615px;width:30px;height:26px;background:#480000"></div>
<div class="c" style="left:438px;top:643px;width:30px;height:24px;background:#b8000c"></div>
<div class="c" style="left:470px;top:521px;width:26px;height:35px;background:#24aa0a"></div>
<div class="c" style="left:498px;top:521px;width:25px;height:35px;background:#24aa0a"></div>
<div class="c" style="left:525px;top:521px;width:23px;height:35px;background:#24aa0a"></div>
<div class="c" style="left:470px;top:558px;width:27px;height:25px;background:#24aa0a"></div>
<div class="c" style="left:499px;top:558px;width:27px;height:25px;background:#24aa0a"></div>
<div class="c" style="left:528px;top:558px;width:20px;height:25px;background:#24aa0a"></div>
<div class="c" style="left:470px;top:585px;width:26px;height:18px;background:#24aa0a"></div>
<div class="c" style="left:498px;top:585px;width:25px;height:18px;background:#1d8b12"></div>
<div class="c" style="left:525px;top:585px;width:23px;height:18px;background:#b8000c"></div>
<div class="c" style="left:470px;top:605px;width:20px;height:20px;background:#24aa0a"></div>
<div class="c" style="left:492px;top:605px;width:18px;height:20px;background:#24aa0a"></div>
<div class="c" style="left:512px;top:605px;width:18px;height:20px;background:#24aa0a"></div>
<div class="c" style="left:532px;top:605px;width:16px;height:20px;background:#24aa0a"></div>
<div class="c" style="left:470px;top:627px;width:20px;height:21px;background:#24aa0a"></div>
<div class="c" style="left:470px;top:650px;width:20px;height:17px;background:#24aa0a"></div>
<div class="c" style="left:492px;top:627px;width:14px;height:24px;background:#24aa0a"></div>
<div class="c" style="left:492px;top:653px;width:14px;height:14px;background:#24aa0a"></div>
<div class="c" style="left:508px;top:627px;width:15px;height:13px;background:#24aa0a"></div>
<div class="c" style="left:508px;top:642px;width:15px;height:14px;background:#24aa0a"></div>
<div class="c" style="left:508px;top:658px;width:15px;height:9px;background:#24aa0a"></div>
<div class="c" style="left:525px;top:627px;width:11px;height:11px;background:#24aa0a"></div>
<div class="c" style="left:538px;top:627px;width:10px;height:11px;background:#1d8b12"></div>
<div class="c" style="left:525px;top:640px;width:11px;height:10px;background:#24aa0a"></div>
<div class="c" style="left:538px;top:640px;width:10px;height:10px;background:#24aa0a"></div>
<div class="c" style="left:525px;top:652px;width:11px;height:7px;background:#24aa0a"></div>
<div class="c" style="left:538px;top:652px;width:5px;height:7px;background:#1d8b12"></div>
<div class="c" style="left:545px;top:652px;width:3px;height:7px;background:#24aa0a"></div>
<div class="c" style="left:525px;top:661px;width:11px;height:6px;background:#24aa0a"></div>
<div class="c" style="left:538px;top:661px;width:10px;height:6px;background:#24aa0a"></div>
<div class="c" style="left:348px;top:696px;width:80px;height:75px;background:#b8000c"><div class="t" style="top:26.4px;font-size:8.3px;line-height:12.5px"><span style="font-size:0.85em;position:relative;top:0.12em">فزر</span><br>-2.9%</div></div>
<div class="c" style="left:348px;top:773px;width:80px;height:54px;background:#24aa0a"><div class="t" style="top:19.0px;font-size:6px;line-height:9.0px"><span style="font-size:1.1em;position:relative;top:0.12em">كگهاد</span><br>2.98%</div></div>
<div class="c" style="left:430px;top:696px;width:70px;height:58px;background:#24aa0a"><div class="t" style="top:21.2px;font-size:5.8px;line-height:8.7px"><span style="font-size:1.1em;position:relative;top:0.12em">كگل</span><br>2.96%</div></div>
<div class="c" style="left:502px;top:696px;width:47px;height:58px;background:#480000"><div class="t" style="top:22.3px;font-size:13.95px;line-height:18.1px">كروم...</div></div>
<div class="c" style="left:430px;top:756px;width:64px;height:36px;background:#1d8b12"><div class="t" style="top:11.3px;font-size:13.95px;line-height:18.1px">كنور</div></div>
<div class="c" style="left:430px;top:794px;width:64px;height:33px;background:#24aa0a"><div class="t" style="top:9.8px;font-size:13.95px;line-height:18.1px">تاصيكو</div></div>
<div class="c" style="left:496px;top:756px;width:31px;height:42px;background:#24aa0a"><div class="t" style="top:14.3px;font-size:13.95px;line-height:18.1px">كاما</div></div>
<div class="c" style="left:529px;top:756px;width:20px;height:42px;background:#24aa0a"></div>
<div class="c" style="left:496px;top:800px;width:16px;height:27px;background:#24aa0a"></div>
<div class="c" style="left:514px;top:800px;width:16px;height:14px;background:#1d8b12"></div>
<div class="c" style="left:514px;top:816px;width:16px;height:11px;background:#24aa0a"></div>
<div class="c" style="left:532px;top:800px;width:17px;height:11px;background:#24aa0a"></div>
<div class="c" style="left:532px;top:813px;width:5px;height:14px;background:#24aa0a"></div>
<div class="c" style="left:539px;top:813px;width:10px;height:7px;background:#24aa0a"></div>
<div class="c" style="left:539px;top:822px;width:10px;height:5px;background:#24aa0a"></div>
<div class="c" style="left:553px;top:503px;width:53px;height:47px;background:#24aa0a"><div class="t" style="top:16.8px;font-size:13.95px;line-height:18.1px">بركت</div></div>
<div class="c" style="left:608px;top:503px;width:38px;height:47px;background:#480000"><div class="t" style="top:16.8px;font-size:13.95px;line-height:18.1px">د...</div></div>
<div class="c" style="left:648px;top:503px;width:36px;height:47px;background:#24aa0a"><div class="t" style="top:16.8px;font-size:13.95px;line-height:18.1px">دزا...</div></div>
<div class="c" style="left:553px;top:552px;width:44px;height:34px;background:#24aa0a"><div class="t" style="top:10.3px;font-size:13.95px;line-height:18.1px">دفارا</div></div>
<div class="c" style="left:599px;top:552px;width:42px;height:34px;background:#24aa0a"><div class="t" style="top:10.3px;font-size:13.95px;line-height:18.1px">والبر</div></div>
<div class="c" style="left:643px;top:552px;width:41px;height:34px;background:#24aa0a"><div class="t" style="top:10.3px;font-size:13.95px;line-height:18.1px">دامين</div></div>
<div class="c" style="left:553px;top:588px;width:39px;height:35px;background:#1d8b12"><div class="t" style="top:10.8px;font-size:13.95px;line-height:18.1px">تي...</div></div>
<div class="c" style="left:553px;top:625px;width:39px;height:31px;background:#005400"><div class="t" style="top:8.8px;font-size:13.95px;line-height:18.1px">كا...</div></div>
<div class="c" style="left:553px;top:658px;width:39px;height:28px;background:#24aa0a"></div>
<div class="c" style="left:594px;top:588px;width:39px;height:26px;background:#b8000c"></div>
<div class="c" style="left:635px;top:588px;width:27px;height:26px;background:#24aa0a"></div>
<div class="c" style="left:664px;top:588px;width:20px;height:26px;background:#24aa0a"></div>
<div class="c" style="left:594px;top:616px;width:21px;height:17px;background:#24aa0a"></div>
<div class="c" style="left:617px;top:616px;width:16px;height:17px;background:#24aa0a"></div>
<div class="c" style="left:635px;top:616px;width:15px;height:17px;background:#24aa0a"></div>
<div class="c" style="left:652px;top:616px;width:16px;height:17px;background:#1d8b12"></div>
<div class="c" style="left:670px;top:616px;width:14px;height:17px;background:#24aa0a"></div>
<div class="c" style="left:594px;top:637px;width:21px;height:16px;background:#24aa0a"></div>
<div class="c" style="left:594px;top:656px;width:21px;height:14px;background:#24aa0a"></div>
<div class="c" style="left:594px;top:672px;width:21px;height:15px;background:#24aa0a"></div>
<div class="c" style="left:617px;top:635px;width:13px;height:14px;background:#24aa0a"></div>
<div class="c" style="left:617px;top:655px;width:13px;height:15px;background:#480000"></div>
<div class="c" style="left:617px;top:672px;width:13px;height:15px;background:#24aa0a"></div>
<div class="c" style="left:632px;top:635px;width:13px;height:15px;background:#24aa0a"></div>
<div class="c" style="left:632px;top:652px;width:13px;height:11px;background:#24aa0a"></div>
<div class="c" style="left:632px;top:665px;width:13px;height:10px;background:#24aa0a"></div>
<div class="c" style="left:632px;top:677px;width:13px;height:10px;background:#1d8b12"></div>
<div class="c" style="left:647px;top:635px;width:11px;height:15px;background:#24aa0a"></div>
<div class="c" style="left:647px;top:652px;width:11px;height:11px;background:#005400"></div>
<div class="c" style="left:647px;top:665px;width:11px;height:10px;background:#480000"></div>
<div class="c" style="left:647px;top:677px;width:11px;height:10px;background:#24aa0a"></div>
<div class="c" style="left:661px;top:635px;width:11px;height:15px;background:#24aa0a"></div>
<div class="c" style="left:674px;top:635px;width:10px;height:15px;background:#24aa0a"></div>
<div class="c" style="left:661px;top:652px;width:11px;height:8px;background:#24aa0a"></div>
<div class="c" style="left:674px;top:652px;width:10px;height:8px;background:#24aa0a"></div>
<div class="c" style="left:661px;top:662px;width:11px;height:7px;background:#24aa0a"></div>
<div class="c" style="left:674px;top:662px;width:10px;height:7px;background:#24aa0a"></div>
<div class="c" style="left:661px;top:671px;width:7px;height:7px;background:#24aa0a"></div>
<div class="c" style="left:670px;top:671px;width:7px;height:7px;background:#24aa0a"></div>
<div class="c" style="left:679px;top:671px;width:5px;height:7px;background:#005400"></div>
<div class="c" style="left:661px;top:680px;width:7px;height:7px;background:#24aa0a"></div>
<div class="c" style="left:670px;top:680px;width:5px;height:7px;background:#005400"></div>
<div class="c" style="left:677px;top:680px;width:3px;height:7px;background:#480000"></div>
<div class="c" style="left:682px;top:680px;width:2px;height:7px;background:#480000"></div>
<div class="c" style="left:553px;top:716px;width:83px;height:111px;background:#24aa0a"><div class="t" style="top:32.4px;font-size:14.5px;line-height:24.1px"><span style="font-size:0.92em;position:relative;top:0.12em">حكشتي</span><br>2.96%</div></div>
<div class="c" style="left:638px;top:716px;width:46px;height:27px;background:#24aa0a"></div>
<div class="c" style="left:638px;top:745px;width:46px;height:23px;background:#24aa0a"></div>
<div class="c" style="left:638px;top:770px;width:25px;height:20px;background:#24aa0a"></div>
<div class="c" style="left:665px;top:770px;width:19px;height:20px;background:#24aa0a"></div>
<div class="c" style="left:638px;top:792px;width:18px;height:21px;background:#24aa0a"></div>
<div class="c" style="left:658px;top:792px;width:13px;height:16px;background:#ee0010"></div>
<div class="c" style="left:673px;top:792px;width:11px;height:16px;background:#24aa0a"></div>
<div class="c" style="left:638px;top:815px;width:18px;height:12px;background:#820004"></div>
<div class="c" style="left:658px;top:810px;width:9px;height:17px;background:#24aa0a"></div>
<div class="c" style="left:669px;top:810px;width:15px;height:10px;background:#24aa0a"></div>
<div class="c" style="left:669px;top:822px;width:15px;height:5px;background:#24aa0a"></div>
<div class="c" style="left:689px;top:503px;width:37px;height:57px;background:#24aa0a"><div class="t" style="top:21.8px;font-size:13.95px;line-height:18.1px">زما...</div></div>
<div class="c" style="left:689px;top:563px;width:37px;height:42px;background:#24aa0a"><div class="t" style="top:14.3px;font-size:13.95px;line-height:18.1px">زك...</div></div>
<div class="c" style="left:728px;top:503px;width:36px;height:35px;background:#b8000c"><div class="t" style="top:10.8px;font-size:13.95px;line-height:18.1px">زك...</div></div>
<div class="c" style="left:766px;top:503px;width:33px;height:35px;background:#24aa0a"></div>
<div class="c" style="left:728px;top:540px;width:26px;height:41px;background:#24aa0a"><div class="t" style="top:13.8px;font-size:13.95px;line-height:18.1px">ز...</div></div>
<div class="c" style="left:728px;top:583px;width:26px;height:22px;background:#24aa0a"></div>
<div class="c" style="left:756px;top:541px;width:23px;height:19px;background:#24aa0a"></div>
<div class="c" style="left:782px;top:541px;width:17px;height:19px;background:#24aa0a"></div>
<div class="c" style="left:756px;top:563px;width:14px;height:21px;background:#24aa0a"></div>
<div class="c" style="left:756px;top:586px;width:14px;height:19px;background:#24aa0a"></div>
<div class="c" style="left:772px;top:563px;width:15px;height:16px;background:#24aa0a"></div>
<div class="c" style="left:772px;top:582px;width:15px;height:11px;background:#24aa0a"></div>
<div class="c" style="left:772px;top:596px;width:15px;height:9px;background:#24aa0a"></div>
<div class="c" style="left:789px;top:563px;width:10px;height:16px;background:#24aa0a"></div>
<div class="c" style="left:789px;top:582px;width:10px;height:7px;background:#24aa0a"></div>
<div class="c" style="left:789px;top:592px;width:10px;height:6px;background:#24aa0a"></div>
<div class="c" style="left:789px;top:601px;width:10px;height:4px;background:#24aa0a"></div>
<div class="c" style="left:689px;top:634px;width:27px;height:47px;background:#1d8b12"></div>
<div class="c" style="left:718px;top:634px;width:24px;height:47px;background:#24aa0a"><div class="t" style="top:16.8px;font-size:13.95px;line-height:18.1px">ا...</div></div>
<div class="c" style="left:744px;top:634px;width:23px;height:47px;background:#1d8b12"></div>
<div class="c" style="left:769px;top:634px;width:16px;height:23px;background:#005400"></div>
<div class="c" style="left:787px;top:634px;width:12px;height:23px;background:#24aa0a"></div>
<div class="c" style="left:769px;top:659px;width:12px;height:12px;background:#1d8b12"></div>
<div class="c" style="left:784px;top:659px;width:6px;height:9px;background:#24aa0a"></div>
<div class="c" style="left:793px;top:659px;width:6px;height:9px;background:#24aa0a"></div>
<div class="c" style="left:769px;top:673px;width:12px;height:8px;background:#24aa0a"></div>
<div class="c" style="left:784px;top:670px;width:4px;height:11px;background:#24aa0a"></div>
<div class="c" style="left:790px;top:670px;width:9px;height:5px;background:#005400"></div>
<div class="c" style="left:790px;top:677px;width:5px;height:4px;background:#24aa0a"></div>
<div class="c" style="left:797px;top:677px;width:2px;height:4px;background:#24aa0a"></div>
<div class="c" style="left:689px;top:710px;width:43px;height:45px;background:#24aa0a"><div class="t" style="top:15.8px;font-size:13.95px;line-height:18.1px">انرژي</div></div>
<div class="c" style="left:734px;top:710px;width:23px;height:45px;background:#24aa0a"></div>
<div class="c" style="left:759px;top:710px;width:28px;height:25px;background:#24aa0a"></div>
<div class="c" style="left:789px;top:710px;width:10px;height:25px;background:#24aa0a"></div>
<div class="c" style="left:759px;top:737px;width:12px;height:18px;background:#24aa0a"></div>
<div class="c" style="left:774px;top:737px;width:14px;height:10px;background:#24aa0a"></div>
<div class="c" style="left:774px;top:749px;width:14px;height:6px;background:#24aa0a"></div>
<div class="c" style="left:790px;top:737px;width:9px;height:4px;background:#24aa0a"></div>
<div class="c" style="left:790px;top:743px;width:4px;height:8px;background:#820004"></div>
<div class="c" style="left:796px;top:743px;width:3px;height:8px;background:#24aa0a"></div>
<div class="c" style="left:790px;top:753px;width:4px;height:2px;background:#24aa0a"></div>
<div class="c" style="left:796px;top:753px;width:3px;height:2px;background:#005400"></div>
<div class="c" style="left:689px;top:784px;width:44px;height:43px;background:#1d8b12"><div class="t" style="top:14.8px;font-size:13.95px;line-height:18.1px">فاذر</div></div>
<div class="c" style="left:735px;top:784px;width:38px;height:43px;background:#24aa0a"><div class="t" style="top:14.8px;font-size:13.95px;line-height:18.1px">فاراك</div></div>
<div class="c" style="left:775px;top:784px;width:24px;height:26px;background:#1d8b12"></div>
<div class="c" style="left:775px;top:812px;width:17px;height:15px;background:#24aa0a"></div>
<div class="c" style="left:794px;top:812px;width:5px;height:7px;background:#005400"></div>
<div class="c" style="left:794px;top:821px;width:5px;height:6px;background:#24aa0a"></div>
<div class="c" style="left:804px;top:503px;width:65px;height:61px;background:#24aa0a"><div class="t" style="top:21.0px;font-size:7.1px;line-height:10.6px"><span style="font-size:1.1em;position:relative;top:0.12em">اخابر</span><br>2.75%</div></div>
<div class="c" style="left:871px;top:503px;width:15px;height:61px;background:#24aa0a"></div>
<div class="c" style="left:891px;top:503px;width:29px;height:44px;background:#b8000c"></div>
<div class="c" style="left:891px;top:549px;width:29px;height:15px;background:#24aa0a"></div>
<div class="c" style="left:922px;top:503px;width:24px;height:17px;background:#24aa0a"></div>
<div class="c" style="left:948px;top:503px;width:24px;height:17px;background:#24aa0a"></div>
<div class="c" style="left:922px;top:522px;width:15px;height:20px;background:#1d8b12"></div>
<div class="c" style="left:939px;top:522px;width:17px;height:15px;background:#005400"></div>
<div class="c" style="left:958px;top:522px;width:14px;height:15px;background:#24aa0a"></div>
<div class="c" style="left:922px;top:544px;width:15px;height:20px;background:#24aa0a"></div>
<div class="c" style="left:939px;top:539px;width:14px;height:13px;background:#24aa0a"></div>
<div class="c" style="left:939px;top:554px;width:14px;height:10px;background:#24aa0a"></div>
<div class="c" style="left:955px;top:539px;width:8px;height:9px;background:#24aa0a"></div>
<div class="c" style="left:965px;top:539px;width:7px;height:9px;background:#b8000c"></div>
<div class="c" style="left:955px;top:550px;width:8px;height:7px;background:#24aa0a"></div>
<div class="c" style="left:965px;top:550px;width:7px;height:7px;background:#24aa0a"></div>
<div class="c" style="left:955px;top:559px;width:8px;height:5px;background:#24aa0a"></div>
<div class="c" style="left:965px;top:559px;width:4px;height:5px;background:#005400"></div>
<div class="c" style="left:970px;top:559px;width:2px;height:5px;background:#24aa0a"></div>
<div class="c" style="left:977px;top:503px;width:29px;height:61px;background:#24aa0a"></div>
<div class="c" style="left:1008px;top:503px;width:47px;height:35px;background:#24aa0a"><div class="t" style="top:10.8px;font-size:13.95px;line-height:18.1px">پكوير</div></div>
<div class="c" style="left:1008px;top:540px;width:27px;height:24px;background:#24aa0a"></div>
<div class="c" style="left:1037px;top:540px;width:10px;height:12px;background:#24aa0a"></div>
<div class="c" style="left:1049px;top:540px;width:6px;height:12px;background:#24aa0a"></div>
<div class="c" style="left:1037px;top:554px;width:7px;height:10px;background:#a0000b"></div>
<div class="c" style="left:1046px;top:554px;width:9px;height:6px;background:#480000"></div>
<div class="c" style="left:1046px;top:562px;width:9px;height:2px;background:#005400"></div>
<div class="c" style="left:804px;top:593px;width:31px;height:49px;background:#24aa0a"><div class="t" style="top:17.8px;font-size:13.95px;line-height:18.1px">د...</div></div>
<div class="c" style="left:837px;top:593px;width:29px;height:28px;background:#24aa0a"></div>
<div class="c" style="left:837px;top:623px;width:29px;height:19px;background:#24aa0a"></div>
<div class="c" style="left:868px;top:593px;width:12px;height:21px;background:#480000"></div>
<div class="c" style="left:882px;top:593px;width:10px;height:21px;background:#24aa0a"></div>
<div class="c" style="left:868px;top:616px;width:14px;height:12px;background:#1d8b12"></div>
<div class="c" style="left:884px;top:616px;width:8px;height:12px;background:#24aa0a"></div>
<div class="c" style="left:868px;top:630px;width:6px;height:12px;background:#24aa0a"></div>
<div class="c" style="left:876px;top:630px;width:8px;height:6px;background:#1d8b12"></div>
<div class="c" style="left:876px;top:638px;width:8px;height:4px;background:#24aa0a"></div>
<div class="c" style="left:886px;top:630px;width:6px;height:5px;background:#24aa0a"></div>
<div class="c" style="left:886px;top:637px;width:6px;height:5px;background:#24aa0a"></div>
<div class="c" style="left:896px;top:593px;width:45px;height:49px;background:#24aa0a"><div class="t" style="top:17.8px;font-size:13.95px;line-height:18.1px">ماديرا</div></div>
<div class="c" style="left:943px;top:593px;width:33px;height:49px;background:#24aa0a"><div class="t" style="top:17.8px;font-size:13.95px;line-height:18.1px">نيان</div></div>
<div class="c" style="left:981px;top:593px;width:29px;height:28px;background:#820004"></div>
<div class="c" style="left:981px;top:623px;width:29px;height:19px;background:#24aa0a"></div>
<div class="c" style="left:1012px;top:593px;width:28px;height:15px;background:#24aa0a"></div>
<div class="c" style="left:1042px;top:593px;width:13px;height:15px;background:#24aa0a"></div>
<div class="c" style="left:1012px;top:610px;width:14px;height:16px;background:#1d8b12"></div>
<div class="c" style="left:1028px;top:610px;width:13px;height:11px;background:#005400"></div>
<div class="c" style="left:1043px;top:610px;width:12px;height:11px;background:#24aa0a"></div>
<div class="c" style="left:1012px;top:628px;width:14px;height:14px;background:#24aa0a"></div>
<div class="c" style="left:1028px;top:623px;width:7px;height:9px;background:#24aa0a"></div>
<div class="c" style="left:1037px;top:623px;width:7px;height:9px;background:#005400"></div>
<div class="c" style="left:1046px;top:623px;width:9px;height:9px;background:#24aa0a"></div>
<div class="c" style="left:1028px;top:634px;width:7px;height:8px;background:#24aa0a"></div>
<div class="c" style="left:1037px;top:634px;width:7px;height:8px;background:#24aa0a"></div>
<div class="c" style="left:1046px;top:634px;width:9px;height:8px;background:#24aa0a"></div>
<div class="c" style="left:804px;top:671px;width:58px;height:65px;background:#24aa0a"><div class="t" style="top:24.5px;font-size:6px;line-height:9.0px"><span style="font-size:1.1em;position:relative;top:0.12em">حفاري</span><br>2.9%</div></div>
<div class="c" style="left:804px;top:764px;width:58px;height:27px;background:#b8000c"></div>
<div class="c" style="left:804px;top:793px;width:17px;height:34px;background:#24aa0a"></div>
<div class="c" style="left:823px;top:793px;width:19px;height:20px;background:#24aa0a"></div>
<div class="c" style="left:823px;top:815px;width:19px;height:12px;background:#24aa0a"></div>
<div class="c" style="left:844px;top:793px;width:18px;height:10px;background:#24aa0a"></div>
<div class="c" style="left:844px;top:805px;width:18px;height:10px;background:#24aa0a"></div>
<div class="c" style="left:844px;top:817px;width:9px;height:10px;background:#24aa0a"></div>
<div class="c" style="left:855px;top:817px;width:7px;height:4px;background:#24aa0a"></div>
<div class="c" style="left:855px;top:823px;width:7px;height:4px;background:#24aa0a"></div>
<div class="c" style="left:866px;top:671px;width:20px;height:28px;background:#1d8b12"></div>
<div class="c" style="left:866px;top:701px;width:20px;height:15px;background:#24aa0a"></div>
<div class="c" style="left:888px;top:671px;width:18px;height:15px;background:#24aa0a"></div>
<div class="c" style="left:888px;top:688px;width:18px;height:17px;background:#24aa0a"></div>
<div class="c" style="left:888px;top:707px;width:18px;height:9px;background:#480000"></div>
<div class="c" style="left:908px;top:671px;width:13px;height:11px;background:#1d8b12"></div>
<div class="c" style="left:923px;top:671px;width:13px;height:11px;background:#24aa0a"></div>
<div class="c" style="left:908px;top:684px;width:13px;height:9px;background:#24aa0a"></div>
<div class="c" style="left:923px;top:684px;width:13px;height:9px;background:#24aa0a"></div>
<div class="c" style="left:908px;top:695px;width:9px;height:9px;background:#24aa0a"></div>
<div class="c" style="left:919px;top:695px;width:7px;height:9px;background:#1d8b12"></div>
<div class="c" style="left:928px;top:695px;width:8px;height:9px;background:#24aa0a"></div>
<div class="c" style="left:908px;top:706px;width:9px;height:10px;background:#820004"></div>
<div class="c" style="left:919px;top:706px;width:8px;height:5px;background:#24aa0a"></div>
<div class="c" style="left:929px;top:706px;width:7px;height:5px;background:#24aa0a"></div>
<div class="c" style="left:919px;top:713px;width:8px;height:3px;background:#24aa0a"></div>
<div class="c" style="left:929px;top:713px;width:7px;height:3px;background:#24aa0a"></div>
<div class="c" style="left:866px;top:745px;width:32px;height:31px;background:#24aa0a"><div class="t" style="top:8.8px;font-size:13.95px;line-height:18.1px">ك...</div></div>
<div class="c" style="left:900px;top:745px;width:30px;height:31px;background:#24aa0a"><div class="t" style="top:8.8px;font-size:13.95px;line-height:18.1px">ر...</div></div>
<div class="c" style="left:932px;top:745px;width:4px;height:31px;background:#24aa0a"></div>
<div class="c" style="left:866px;top:804px;width:22px;height:23px;background:#24aa0a"></div>
<div class="c" style="left:890px;top:804px;width:19px;height:23px;background:#24aa0a"></div>
<div class="c" style="left:911px;top:804px;width:9px;height:11px;background:#24aa0a"></div>
<div class="c" style="left:911px;top:817px;width:9px;height:10px;background:#24aa0a"></div>
<div class="c" style="left:922px;top:804px;width:7px;height:10px;background:#24aa0a"></div>
<div class="c" style="left:931px;top:804px;width:5px;height:10px;background:#24aa0a"></div>
<div class="c" style="left:922px;top:816px;width:7px;height:11px;background:#24aa0a"></div>
<div class="c" style="left:931px;top:816px;width:5px;height:5px;background:#24aa0a"></div>
<div class="c" style="left:931px;top:823px;width:5px;height:4px;background:#24aa0a"></div>
<div class="c" style="left:941px;top:671px;width:21px;height:24px;background:#24aa0a"></div>
<div class="c" style="left:964px;top:671px;width:17px;height:13px;background:#24aa0a"></div>
<div class="c" style="left:964px;top:686px;width:17px;height:9px;background:#24aa0a"></div>
<div class="c" style="left:983px;top:671px;width:8px;height:11px;background:#24aa0a"></div>
<div class="c" style="left:993px;top:671px;width:10px;height:11px;background:#24aa0a"></div>
<div class="c" style="left:983px;top:684px;width:5px;height:11px;background:#005400"></div>
<div class="c" style="left:990px;top:684px;width:9px;height:5px;background:#005400"></div>
<div class="c" style="left:990px;top:691px;width:9px;height:4px;background:#24aa0a"></div>
<div class="c" style="left:1001px;top:684px;width:2px;height:11px;background:#24aa0a"></div>
<div class="c" style="left:1008px;top:671px;width:47px;height:24px;background:#24aa0a"></div>
<div class="c" style="left:941px;top:723px;width:28px;height:12px;background:#24aa0a"></div>
<div class="c" style="left:972px;top:723px;width:10px;height:12px;background:#1d8b12"></div>
<div class="c" style="left:984px;top:723px;width:5px;height:12px;background:#24aa0a"></div>
<div class="c" style="left:991px;top:723px;width:6px;height:7px;background:#24aa0a"></div>
<div class="c" style="left:991px;top:732px;width:6px;height:3px;background:#24aa0a"></div>
<div class="c" style="left:1002px;top:723px;width:31px;height:12px;background:#24aa0a"></div>
<div class="c" style="left:1035px;top:723px;width:17px;height:12px;background:#24aa0a"></div>
<div class="c" style="left:1054px;top:723px;width:1px;height:12px;background:#24aa0a"></div>
<div class="c" style="left:941px;top:763px;width:14px;height:23px;background:#24aa0a"></div>
<div class="c" style="left:957px;top:763px;width:12px;height:13px;background:#24aa0a"></div>
<div class="c" style="left:971px;top:763px;width:8px;height:13px;background:#24aa0a"></div>
<div class="c" style="left:957px;top:778px;width:10px;height:8px;background:#480000"></div>
<div class="c" style="left:969px;top:778px;width:6px;height:8px;background:#005400"></div>
<div class="c" style="left:977px;top:778px;width:2px;height:8px;background:#24aa0a"></div>
<div class="c" style="left:983px;top:763px;width:10px;height:13px;background:#24aa0a"></div>
<div class="c" style="left:995px;top:763px;width:10px;height:13px;background:#24aa0a"></div>
<div class="c" style="left:1007px;top:763px;width:11px;height:6px;background:#24aa0a"></div>
<div class="c" style="left:1007px;top:771px;width:11px;height:5px;background:#24aa0a"></div>
<div class="c" style="left:1022px;top:763px;width:11px;height:13px;background:#24aa0a"></div>
<div class="c" style="left:1035px;top:763px;width:11px;height:13px;background:#24aa0a"></div>
<div class="c" style="left:1048px;top:763px;width:7px;height:8px;background:#24aa0a"></div>
<div class="c" style="left:1048px;top:773px;width:7px;height:3px;background:#005400"></div>
<div class="c" style="left:983px;top:804px;width:16px;height:12px;background:#24aa0a"></div>
<div class="c" style="left:1001px;top:804px;width:6px;height:17px;background:#24aa0a"></div>
<div class="c" style="left:983px;top:819px;width:16px;height:8px;background:#24aa0a"></div>
<div class="c" style="left:1001px;top:823px;width:6px;height:4px;background:#1d8b12"></div>
<div class="c" style="left:941px;top:814px;width:35px;height:13px;background:#24aa0a"></div>
<div class="c" style="left:978px;top:814px;width:1px;height:13px;background:#24aa0a"></div>
</body></html>
